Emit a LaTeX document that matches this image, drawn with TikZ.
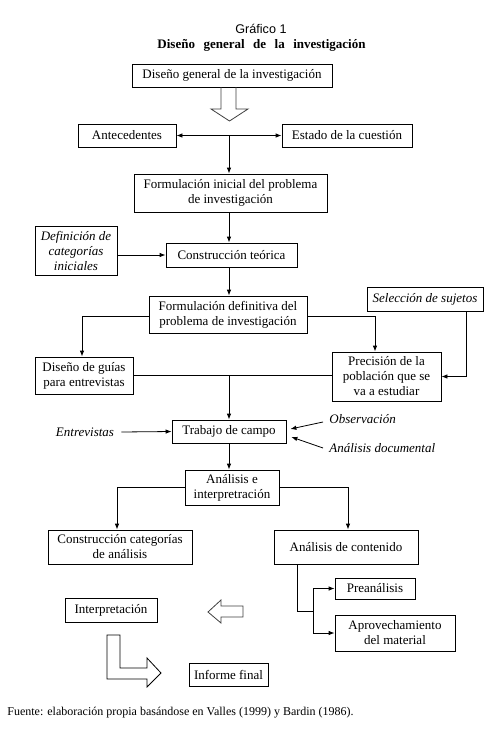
\documentclass[tikz,border=0pt]{standalone}
\usepackage{fontspec}
\setmainfont{Liberation Serif}
\newfontfamily\arialf{Liberation Sans}
\usetikzlibrary{arrows.meta}
\begin{document}
\begin{tikzpicture}[x=1pt,y=-1pt,
  >={Latex[length=6pt,width=4.5pt]},
  every path/.style={line width=0.8pt},
  box/.style={draw, line width=0.8pt, inner sep=0pt, align=center, font=\fontsize{13}{15}\selectfont},
  lbl/.style={inner sep=0pt, font=\fontsize{13}{15}\selectfont\itshape},
  hollow/.style={draw=black!75, line width=0.8pt, line join=miter}]
\useasboundingbox (0,0) rectangle (498,732);
\fill[white] (0,0) rectangle (498,732);

% titles
\node[inner sep=0pt, font=\arialf\fontsize{12.6}{14}\selectfont] (gr) at (261,29) {Gráfico 1};
\node[inner sep=0pt, font=\fontsize{13}{15}\selectfont\bfseries] (tit) at (261.5,45) {Diseño\hspace{8.5pt}general\hspace{8.5pt}de\hspace{8.5pt}la\hspace{8.5pt}investigación};

% boxes
\node[box, minimum width=200pt, minimum height=23pt] (b1) at (232,75.5) {Diseño general de la investigación};
\node[box, minimum width=98pt, minimum height=23pt] (ant) at (127,135.5) {Antecedentes};
\node[box, minimum width=130pt, minimum height=23pt] (est) at (347,135.5) {Estado de la cuestión};
\node[box, minimum width=193pt, minimum height=38pt] (fi) at (230.5,193) {Formulación inicial del problema\\de investigación};
\node[box, minimum width=131pt, minimum height=24pt] (ct) at (231.5,255) {Construcción teórica};
\node[box, minimum width=82pt, minimum height=49pt, font=\fontsize{13}{15}\selectfont\itshape] (def) at (76,250.5) {Definición de\\categorías\\iniciales};
\node[box, minimum width=158pt, minimum height=37pt] (fd) at (228,314.5) {Formulación definitiva del\\problema de investigación};
\node[box, minimum width=116pt, minimum height=24pt, font=\fontsize{13}{15}\selectfont\itshape] (sel) at (425,299) {Selección de sujetos};
\node[box, minimum width=98pt, minimum height=37pt] (dg) at (84,375.5) {Diseño de guías\\para entrevistas};
\node[box, minimum width=109pt, minimum height=49pt] (pre) at (386.5,376.5) {Precisión de la\\población que se\\va a estudiar};
\node[box, minimum width=114pt, minimum height=23pt] (tc) at (229,431.5) {Trabajo de campo};
\node[box, minimum width=94pt, minimum height=35pt] (ae) at (232,487.5) {Análisis e\\interpretración};
\node[box, minimum width=144pt, minimum height=34pt] (cc) at (120,547) {Construcción categorías\\de análisis};
\node[box, minimum width=144pt, minimum height=34pt] (ac) at (346,547) {Análisis de contenido};
\node[box, minimum width=80pt, minimum height=21pt] (pa) at (375,588.5) {Preanálisis};
\node[box, minimum width=120pt, minimum height=36pt] (apr) at (395,633) {Aprovechamiento\\del material};
\node[box, minimum width=92pt, minimum height=24pt] (int) at (111,610) {Interpretación};
\node[box, minimum width=79pt, minimum height=23pt] (inf) at (228.5,674.5) {Informe final};

% free labels
\node[lbl] (entr) at (85,432) {Entrevistas};
\node[lbl, anchor=west] (obs) at (329,419) {Observación};
\node[lbl, anchor=west] (ad) at (329,448) {Análisis documental};

% spine coordinate
\coordinate (sp) at (229,0);

% connectors
\draw[<->] (ant.east) -- (est.west);
\coordinate (j1) at (sp |- ant.east);
\draw[->] (j1) -- (j1 |- fi.north);
\draw[->] (sp |- fi.south) -- (sp |- ct.north);
\draw[->] (def.east |- ct.west) -- (ct.west);
\draw[->] (sp |- ct.south) -- (sp |- fd.north);
\draw[->] ([yshift=-1.5pt]fd.west) -| ([xshift=-2pt]dg.north);
\draw[->] ([yshift=-1.5pt]fd.east) -| ([xshift=-11.5pt]pre.north);
\draw[->] ([xshift=41pt]sel.south) |- (pre.east);
\draw (dg.east) -- (dg.east -| pre.west);
\coordinate (j2) at (sp |- dg.east);
\draw[->] (j2) -- (sp |- tc.north);
\draw[->] ([xshift=7pt]entr.east) -- (tc.west);
\draw[->] ([xshift=-6pt,yshift=-3pt]obs.west) -- ([xshift=4pt,yshift=2.5pt]tc.east);
\draw[->] ([xshift=-6pt]ad.west) -- ([xshift=5pt,yshift=-5.5pt]tc.east);
\draw[->] (sp |- tc.south) -- (sp |- ae.north);
\draw[->] (ae.west) -| ([xshift=-3pt]cc.north);
\draw[->] (ae.east) -| ([xshift=2pt]ac.north);
\coordinate (k1) at (313,611);
\draw ([xshift=-49pt]ac.south) |- (k1);
\draw[->] (k1) |- (pa.west);
\draw[->] (k1) |- (apr.west);

% hollow arrows
\draw[hollow] (221,87) -- (221,109) -- (211,109) -- (229.5,121) -- (248,109) -- (236,109) -- (236,87);
\draw[hollow] (243,606) -- (221,606) -- (221,600) -- (208,612) -- (221,623) -- (221,617) -- (243,617) -- cycle;
\draw[draw=black, line width=0.8pt, line join=miter] (107,635) -- (120,635) -- (120,668) -- (147,668) -- (147,658) -- (161,673) -- (147,687) -- (147,679) -- (107,679) -- cycle;

% source
\node[inner sep=0pt, anchor=west, font=\fontsize{12}{14}\selectfont] (src) at (7,713) {Fuente: elaboración propia basándose en Valles (1999) y Bardin (1986).};
\end{tikzpicture}
\end{document}
